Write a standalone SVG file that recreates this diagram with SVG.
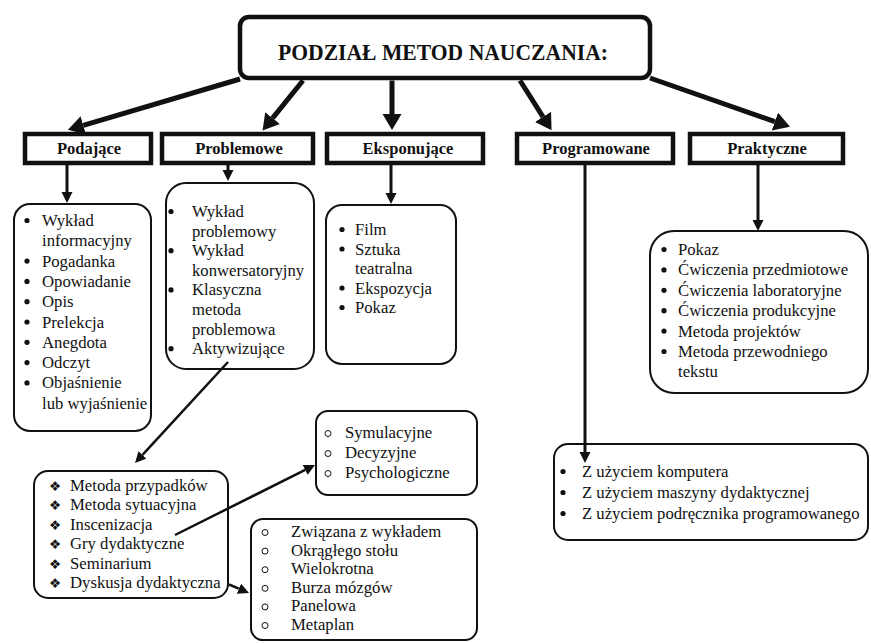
<svg xmlns="http://www.w3.org/2000/svg" width="871" height="643" viewBox="0 0 871 643">
<style>
  .title{font-family:"Liberation Serif","Times New Roman",serif;font-weight:bold;font-size:24px;fill:#111}
  .cat{font-family:"Liberation Serif","Times New Roman",serif;font-weight:bold;font-size:16.5px;fill:#111;text-anchor:middle}
  .t{font-family:"Liberation Serif","Times New Roman",serif;font-size:16.7px;fill:#111}
  .dia{font-family:"DejaVu Sans",sans-serif;font-size:13.5px;fill:#111;text-anchor:middle}
  .tbox{fill:#fff;stroke:#111;stroke-width:4.5}
  .cbox{fill:#fff;stroke:#111;stroke-width:4.5}
  .lbox{fill:#fff;stroke:#111;stroke-width:2}
  .bul{fill:#111}
  .obul{fill:none;stroke:#111;stroke-width:1}
  .big{stroke:#111;stroke-width:5;fill:none}
  .mid{stroke:#111;stroke-width:3;fill:none}
  .sm{stroke:#111;stroke-width:2.5;fill:none}
</style>
<defs>
  <marker id="hb" markerUnits="userSpaceOnUse" markerWidth="18" markerHeight="20" refX="0" refY="9.5" orient="auto">
    <path d="M0,0 L16,9.5 L0,19 Z" fill="#111"/>
  </marker>
  <marker id="hs" markerUnits="userSpaceOnUse" markerWidth="13" markerHeight="12" refX="0" refY="5.5" orient="auto">
    <path d="M0,0 L11,5.5 L0,11 Z" fill="#111"/>
  </marker>
</defs>

<g id="title">
  <rect class="tbox" x="240" y="17" width="410" height="61" rx="9"/>
  <text class="title" x="278" y="60" textLength="330" lengthAdjust="spacingAndGlyphs">PODZIAŁ METOD NAUCZANIA:</text>
</g>

<g id="cat-podajace">
  <rect class="cbox" x="25" y="134" width="126" height="29"/>
  <text class="cat" x="89" y="154">Podające</text>
</g>
<g id="cat-problemowe">
  <rect class="cbox" x="162" y="134" width="151" height="29"/>
  <text class="cat" x="239" y="154">Problemowe</text>
</g>
<g id="cat-eksponujace">
  <rect class="cbox" x="327" y="134" width="156" height="29"/>
  <text class="cat" x="408" y="154">Eksponujące</text>
</g>
<g id="cat-programowane">
  <rect class="cbox" x="517" y="134" width="156" height="29"/>
  <text class="cat" x="596" y="154">Programowane</text>
</g>
<g id="cat-praktyczne">
  <rect class="cbox" x="690" y="134" width="153" height="29"/>
  <text class="cat" x="767" y="154">Praktyczne</text>
</g>

<g id="list-podajace">
  <rect class="lbox" x="14" y="204" width="137" height="227" rx="16"/>
  <circle class="bul" cx="27" cy="220.5" r="2.6"/>
  <circle class="bul" cx="27" cy="261.1" r="2.6"/>
  <circle class="bul" cx="27" cy="281.4" r="2.6"/>
  <circle class="bul" cx="27" cy="301.7" r="2.6"/>
  <circle class="bul" cx="27" cy="322" r="2.6"/>
  <circle class="bul" cx="27" cy="342.3" r="2.6"/>
  <circle class="bul" cx="27" cy="362.6" r="2.6"/>
  <circle class="bul" cx="27" cy="382.9" r="2.6"/>
  <text class="t" x="42" y="226">Wykład</text>
  <text class="t" x="42" y="246.3">informacyjny</text>
  <text class="t" x="42" y="266.6">Pogadanka</text>
  <text class="t" x="42" y="286.9">Opowiadanie</text>
  <text class="t" x="42" y="307.2">Opis</text>
  <text class="t" x="42" y="327.5">Prelekcja</text>
  <text class="t" x="42" y="347.8">Anegdota</text>
  <text class="t" x="42" y="368.1">Odczyt</text>
  <text class="t" x="42" y="388.4">Objaśnienie</text>
  <text class="t" x="42" y="408.7">lub wyjaśnienie</text>
</g>

<g id="list-problemowe">
  <rect class="lbox" x="166" y="183" width="148" height="186" rx="20"/>
  <circle class="bul" cx="171" cy="211.5" r="2.6"/>
  <circle class="bul" cx="171" cy="250.7" r="2.6"/>
  <circle class="bul" cx="171" cy="289.9" r="2.6"/>
  <circle class="bul" cx="171" cy="348.7" r="2.6"/>
  <text class="t" x="192" y="217">Wykład</text>
  <text class="t" x="192" y="236.6">problemowy</text>
  <text class="t" x="192" y="256.2">Wykład</text>
  <text class="t" x="192" y="275.8">konwersatoryjny</text>
  <text class="t" x="192" y="295.4">Klasyczna</text>
  <text class="t" x="192" y="315">metoda</text>
  <text class="t" x="192" y="334.6">problemowa</text>
  <text class="t" x="192" y="354.2">Aktywizujące</text>
</g>

<g id="list-eksponujace">
  <rect class="lbox" x="326" y="205" width="130" height="159" rx="16"/>
  <circle class="bul" cx="342" cy="229.5" r="2.6"/>
  <circle class="bul" cx="342" cy="249" r="2.6"/>
  <circle class="bul" cx="342" cy="288" r="2.6"/>
  <circle class="bul" cx="342" cy="307.5" r="2.6"/>
  <text class="t" x="355" y="235">Film</text>
  <text class="t" x="355" y="254.5">Sztuka</text>
  <text class="t" x="355" y="274">teatralna</text>
  <text class="t" x="355" y="293.5">Ekspozycja</text>
  <text class="t" x="355" y="313">Pokaz</text>
</g>

<g id="list-praktyczne">
  <rect class="lbox" x="650" y="231" width="218" height="162" rx="24"/>
  <circle class="bul" cx="664" cy="249.5" r="2.6"/>
  <circle class="bul" cx="664" cy="269.9" r="2.6"/>
  <circle class="bul" cx="664" cy="290.3" r="2.6"/>
  <circle class="bul" cx="664" cy="310.7" r="2.6"/>
  <circle class="bul" cx="664" cy="331.1" r="2.6"/>
  <circle class="bul" cx="664" cy="351.5" r="2.6"/>
  <text class="t" x="678" y="255">Pokaz</text>
  <text class="t" x="678" y="275.4">Ćwiczenia przedmiotowe</text>
  <text class="t" x="678" y="295.8">Ćwiczenia laboratoryjne</text>
  <text class="t" x="678" y="316.2">Ćwiczenia produkcyjne</text>
  <text class="t" x="678" y="336.6">Metoda projektów</text>
  <text class="t" x="678" y="357">Metoda przewodniego</text>
  <text class="t" x="678" y="377.4">tekstu</text>
</g>

<g id="list-programowane">
  <rect class="lbox" x="554" y="444" width="314" height="96" rx="14"/>
  <circle class="bul" cx="563" cy="471.5" r="2.6"/>
  <circle class="bul" cx="563" cy="492.5" r="2.6"/>
  <circle class="bul" cx="563" cy="513.5" r="2.6"/>
  <text class="t" x="582" y="477">Z użyciem komputera</text>
  <text class="t" x="582" y="498">Z użyciem maszyny dydaktycznej</text>
  <text class="t" x="582" y="519">Z użyciem podręcznika programowanego</text>
</g>

<g id="list-aktywizujace">
  <rect class="lbox" x="34" y="471" width="194" height="127" rx="14"/>
  <text class="dia" x="55" y="491">❖</text>
  <text class="dia" x="55" y="510.4">❖</text>
  <text class="dia" x="55" y="529.8">❖</text>
  <text class="dia" x="55" y="549.2">❖</text>
  <text class="dia" x="55" y="568.6">❖</text>
  <text class="dia" x="55" y="588">❖</text>
  <text class="t" x="70" y="491">Metoda przypadków</text>
  <text class="t" x="70" y="510.4">Metoda sytuacyjna</text>
  <text class="t" x="70" y="529.8">Inscenizacja</text>
  <text class="t" x="70" y="549.2">Gry dydaktyczne</text>
  <text class="t" x="70" y="568.6">Seminarium</text>
  <text class="t" x="70" y="588">Dyskusja dydaktyczna</text>
</g>

<g id="list-gry">
  <rect class="lbox" x="316" y="411" width="161" height="84" rx="12"/>
  <circle class="obul" cx="328" cy="433.5" r="3"/>
  <circle class="obul" cx="328" cy="453.5" r="3"/>
  <circle class="obul" cx="328" cy="473.5" r="3"/>
  <text class="t" x="345" y="438">Symulacyjne</text>
  <text class="t" x="345" y="458">Decyzyjne</text>
  <text class="t" x="345" y="478">Psychologiczne</text>
</g>

<g id="list-dyskusja">
  <rect class="lbox" x="251" y="519" width="226" height="121" rx="12"/>
  <circle class="obul" cx="265" cy="532.5" r="3"/>
  <circle class="obul" cx="265" cy="551.1" r="3"/>
  <circle class="obul" cx="265" cy="569.7" r="3"/>
  <circle class="obul" cx="265" cy="588.3" r="3"/>
  <circle class="obul" cx="265" cy="606.9" r="3"/>
  <circle class="obul" cx="265" cy="625.5" r="3"/>
  <text class="t" x="291" y="537">Związana z wykładem</text>
  <text class="t" x="291" y="555.6">Okrągłego stołu</text>
  <text class="t" x="291" y="574.2">Wielokrotna</text>
  <text class="t" x="291" y="592.8">Burza mózgów</text>
  <text class="t" x="291" y="611.4">Panelowa</text>
  <text class="t" x="291" y="630">Metaplan</text>
</g>

<g id="connectors">
  <line class="big" x1="240" y1="79" x2="83.3" y2="125.3" marker-end="url(#hb)"/>
  <line class="big" x1="303" y1="80.5" x2="272.6" y2="118.1" marker-end="url(#hb)"/>
  <line class="big" x1="392" y1="80.5" x2="392" y2="114" marker-end="url(#hb)"/>
  <line class="big" x1="520" y1="80.5" x2="543" y2="116.8" marker-end="url(#hb)"/>
  <line class="big" x1="650" y1="78" x2="774.9" y2="121.6" marker-end="url(#hb)"/>

  <line class="mid" x1="67" y1="165" x2="67" y2="192" marker-end="url(#hs)"/>
  <line class="mid" x1="228" y1="165" x2="228" y2="170" marker-end="url(#hs)"/>
  <line class="mid" x1="391" y1="165" x2="391" y2="193" marker-end="url(#hs)"/>
  <line class="mid" x1="585" y1="165" x2="585" y2="452" marker-end="url(#hs)"/>
  <line class="mid" x1="758" y1="165" x2="758" y2="220" marker-end="url(#hs)"/>

  <line class="sm" x1="228" y1="362" x2="142.5" y2="454.9" marker-end="url(#hs)"/>
  <line class="sm" x1="175" y1="535" x2="305.2" y2="469.9" marker-end="url(#hs)"/>
  <line class="sm" x1="229" y1="584.5" x2="238.9" y2="588.7" marker-end="url(#hs)"/>
</g>
</svg>
